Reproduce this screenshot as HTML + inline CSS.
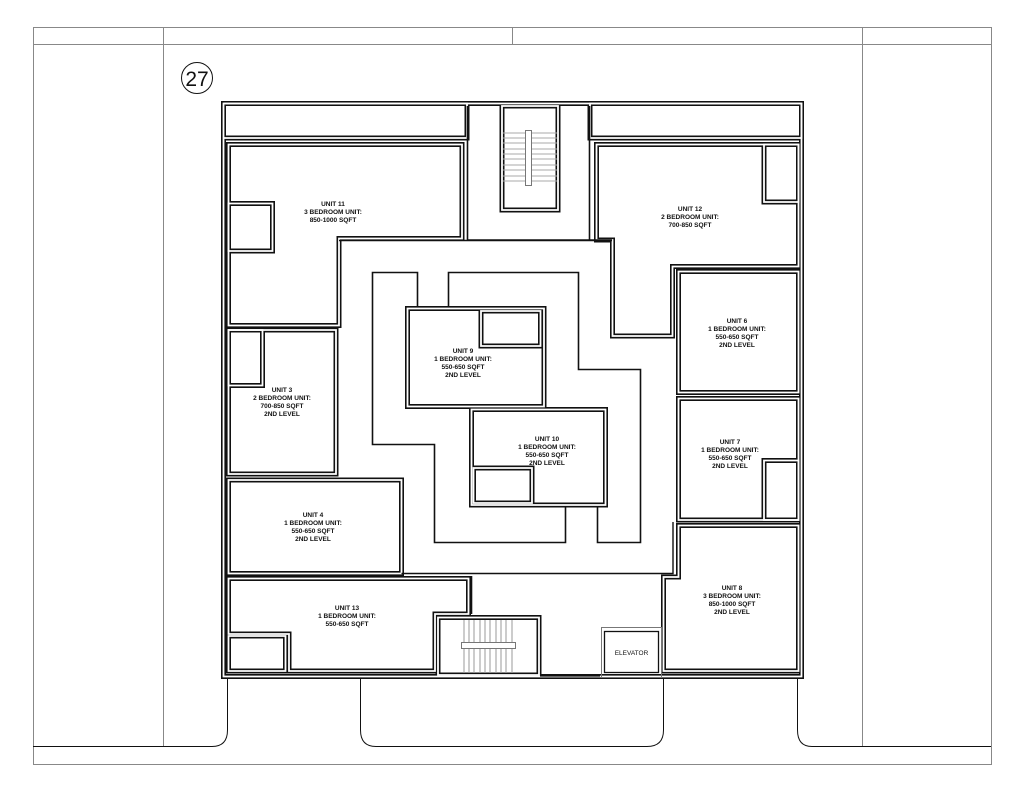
<!DOCTYPE html>
<html><head><meta charset="utf-8"><style>
html,body{margin:0;padding:0;background:#fff}
svg{display:block}
.s{fill:none;stroke:#111;stroke-width:1.6}
.g{fill:none;stroke:#888;stroke-width:1}
.t{font-family:"Liberation Sans",sans-serif;font-size:6.5px;font-weight:bold;fill:#111;text-anchor:middle}
</style></head><body>
<svg width="1024" height="791" viewBox="0 0 1024 791">
<defs>
<g id="walls">
<path d="M223.5 103.5 H801.5 V676.5 H223.5 Z"/>
<path d="M223.5 103.5 H467 V138 H223.5"/>
<path d="M590 103.5 H801.5 V138 H590 Z"/>
<path d="M502 106 H558 V210 H502 Z"/>
<path d="M228.5 144.5 H462 V238.5 H339 V325.5 H228.5 Z"/>
<path d="M228.5 203.5 H272.5 V251 H228.5 Z"/>
<path d="M596.5 144.5 H798.5 V266.5 H672.5 V336 H612.5 V240 H596.5 Z"/>
<path d="M764 144.5 H798.5 V202 H764 Z"/>
<path d="M678.5 271.5 H798.5 V392.5 H678.5 Z"/>
<path d="M678.5 398.5 H798.5 V520 H678.5 Z"/>
<path d="M764 460.5 H798.5 V520 H764 Z"/>
<path d="M678.5 525.5 H798.5 V671 H663.5 V577 H678.5 Z"/>
<path d="M228.5 330 H336 V474 H228.5 Z"/>
<path d="M228.5 330 H262.5 V385.5 H228.5 Z"/>
<path d="M228.5 480 H401.5 V573.5 H228.5 Z"/>
<path d="M228.5 578.5 H468.5 V614 H435 V671 H289 V634 H228.5 Z"/>
<path d="M228.5 636 H285.5 V671 H228.5 Z"/>
<path d="M438 617.5 H539 V675 H438 Z"/>
<path d="M407.5 308.5 H544 V406.5 H407.5 Z"/>
<path d="M481 311 H540.5 V346 H481 Z"/>
<path d="M471.5 409.5 H605.5 V505 H471.5 Z"/>
<path d="M473.5 468 H532 V503 H473.5 Z"/>
</g>
</defs>
<!-- frame -->
<rect x="33.5" y="27.5" width="958" height="737" class="g"/>
<line x1="33" y1="44.5" x2="991" y2="44.5" class="g"/>
<line x1="163.5" y1="27" x2="163.5" y2="746" class="g"/>
<line x1="862.5" y1="27" x2="862.5" y2="746" class="g"/>
<line x1="512.5" y1="27" x2="512.5" y2="44" class="g"/>
<path d="M227.5 679 V730 Q227.5 746.5 212 746.5" class="s" style="stroke-width:1"/>
<path d="M360.5 679 V730 Q360.5 746.5 376 746.5 H647" class="s" style="stroke-width:1"/>
<path d="M663.5 679 V730 Q663.5 746.5 647 746.5" class="s" style="stroke-width:1"/>
<path d="M797.5 679 V730 Q797.5 746.5 812 746.5" class="s" style="stroke-width:1"/>
<path d="M33 746.5 H212" class="s" style="stroke-width:1"/>
<path d="M812 746.5 H991" class="s" style="stroke-width:1"/>
<circle cx="197" cy="78" r="15.5" fill="none" stroke="#111" stroke-width="1"/>
<text x="197" y="86" style="font-family:'Liberation Sans',sans-serif;font-size:21px;text-anchor:middle;fill:#111">27</text>

<use href="#walls" fill="none" stroke="#111" stroke-width="5"/>
<use href="#walls" fill="none" stroke="#fff" stroke-width="1.8"/>

<!-- single lines -->
<path d="M417.5 306 V272.5 H372.5 V444.5 H434.5 V542.5 H565.5 V507" class="s"/>
<path d="M448.5 306 V272.5 H578.5 V369.5 H640.5 V542.5 H597.5 V507" class="s"/>
<path d="M467.5 106 V240 H612 M589.5 106 V240" class="s"/>
<path d="M339 240.5 H612" class="s"/>
<path d="M401.5 573.5 H673 V522" class="s" style="stroke-width:1.4"/>
<path d="M471.5 576 V614" class="s"/>
<path d="M540 676 H600" class="s" style="stroke-width:1.2"/>
<rect x="601.5" y="627.5" width="60" height="50" fill="none" stroke="#777" stroke-width="1"/>
<rect x="604.5" y="631.5" width="54" height="41" fill="none" stroke="#111" stroke-width="1.3"/>
<text x="631.5" y="655" class="t" style="font-weight:normal">ELEVATOR</text>

<!-- stairs top -->
<g stroke="#aaa" stroke-width="1">
<line x1="503" y1="133" x2="557" y2="133"/><line x1="503" y1="138" x2="557" y2="138"/>
<line x1="503" y1="143" x2="557" y2="143"/><line x1="503" y1="149" x2="557" y2="149"/>
<line x1="503" y1="154" x2="557" y2="154"/><line x1="503" y1="159" x2="557" y2="159"/>
<line x1="503" y1="165" x2="557" y2="165"/><line x1="503" y1="170" x2="557" y2="170"/>
<line x1="503" y1="176" x2="557" y2="176"/><line x1="503" y1="181" x2="557" y2="181"/>
</g>
<rect x="525.5" y="130.5" width="6" height="55" fill="#fff" stroke="#777" stroke-width="1"/>
<!-- stairs bottom -->
<g stroke="#999" stroke-width="1">
<line x1="464" y1="620" x2="464" y2="673"/><line x1="469" y1="620" x2="469" y2="673"/>
<line x1="474" y1="620" x2="474" y2="673"/><line x1="480" y1="620" x2="480" y2="673"/>
<line x1="485" y1="620" x2="485" y2="673"/><line x1="490" y1="620" x2="490" y2="673"/>
<line x1="496" y1="620" x2="496" y2="673"/><line x1="501" y1="620" x2="501" y2="673"/>
<line x1="506" y1="620" x2="506" y2="673"/><line x1="512" y1="620" x2="512" y2="673"/>
</g>
<rect x="461.5" y="642.5" width="54" height="6" fill="#fff" stroke="#777" stroke-width="1"/>

<!-- labels -->
<g class="t">
<text x="333" y="206">UNIT 11</text><text x="333" y="214">3 BEDROOM UNIT:</text><text x="333" y="222">850-1000 SQFT</text>
<text x="690" y="211">UNIT 12</text><text x="690" y="219">2 BEDROOM UNIT:</text><text x="690" y="227">700-850 SQFT</text>
<text x="737" y="323">UNIT 6</text><text x="737" y="331">1 BEDROOM UNIT:</text><text x="737" y="339">550-650 SQFT</text><text x="737" y="347">2ND LEVEL</text>
<text x="730" y="444">UNIT 7</text><text x="730" y="452">1 BEDROOM UNIT:</text><text x="730" y="460">550-650 SQFT</text><text x="730" y="468">2ND LEVEL</text>
<text x="732" y="590">UNIT 8</text><text x="732" y="598">3 BEDROOM UNIT:</text><text x="732" y="606">850-1000 SQFT</text><text x="732" y="614">2ND LEVEL</text>
<text x="463" y="353">UNIT 9</text><text x="463" y="361">1 BEDROOM UNIT:</text><text x="463" y="369">550-650 SQFT</text><text x="463" y="377">2ND LEVEL</text>
<text x="547" y="441">UNIT 10</text><text x="547" y="449">1 BEDROOM UNIT:</text><text x="547" y="457">550-650 SQFT</text><text x="547" y="465">2ND LEVEL</text>
<text x="282" y="392">UNIT 3</text><text x="282" y="400">2 BEDROOM UNIT:</text><text x="282" y="408">700-850 SQFT</text><text x="282" y="416">2ND LEVEL</text>
<text x="313" y="517">UNIT 4</text><text x="313" y="525">1 BEDROOM UNIT:</text><text x="313" y="533">550-650 SQFT</text><text x="313" y="541">2ND LEVEL</text>
<text x="347" y="610">UNIT 13</text><text x="347" y="618">1 BEDROOM UNIT:</text><text x="347" y="626">550-650 SQFT</text>
</g>
</svg>
</body></html>
